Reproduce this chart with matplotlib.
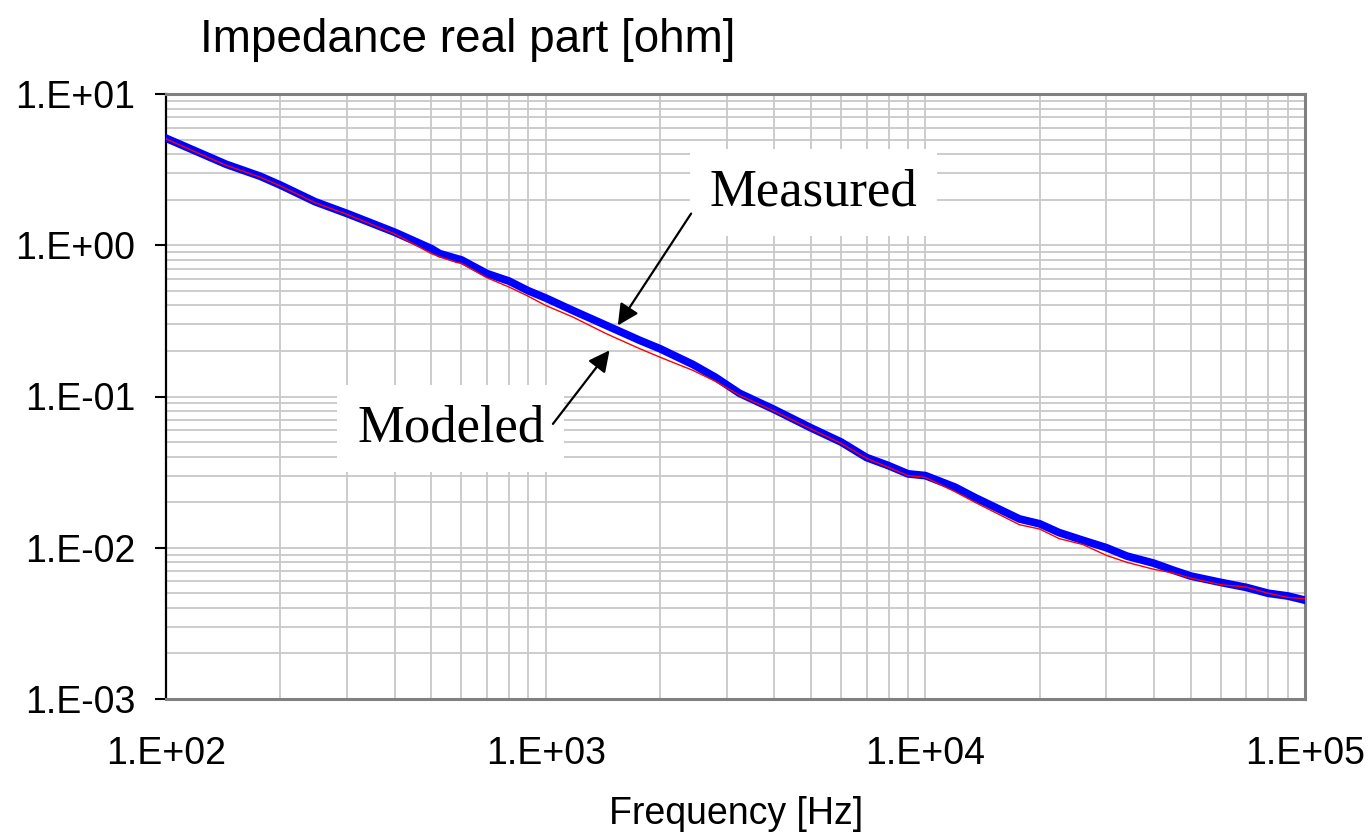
import matplotlib
matplotlib.use("Agg")
import matplotlib.pyplot as plt
from matplotlib.ticker import LogLocator, FixedLocator, NullFormatter

# values
freq = [100, 118, 144, 177, 200, 247, 300, 400, 500, 526, 582, 600, 700, 800,
        900, 1000, 1180, 1445, 1770, 2000, 2440, 2800, 3240, 4000, 5000, 6000,
        7000, 8000, 9000, 10000, 12000, 13500, 17700, 20000, 22500, 26000,
        30000, 34000, 40000, 45000, 50000, 60000, 70000, 80000, 90000, 100000]

measured = [5.1, 4.26, 3.43, 2.86, 2.50, 1.94, 1.62, 1.22, 0.95, 0.88, 0.817,
            0.80, 0.65, 0.58, 0.50, 0.448, 0.37, 0.295, 0.235, 0.207, 0.163,
            0.134, 0.105, 0.082, 0.062, 0.050, 0.0395, 0.0349, 0.0308, 0.030,
            0.0251, 0.0215, 0.0155, 0.0144, 0.0126, 0.0112, 0.0100, 0.0088,
            0.0079, 0.0071, 0.0065, 0.0059, 0.00547, 0.0050, 0.0048, 0.0045]

modeled = [5.05, 4.2, 3.38, 2.82, 2.47, 1.91, 1.60, 1.19, 0.88, 0.84, 0.77,
           0.76, 0.61, 0.53, 0.46, 0.40, 0.335, 0.26, 0.207, 0.182, 0.149,
           0.126, 0.102, 0.080, 0.061, 0.049, 0.039, 0.034, 0.030, 0.0292,
           0.0234, 0.020, 0.0142, 0.0133, 0.0115, 0.0105, 0.0089, 0.0080,
           0.0072, 0.0068, 0.0063, 0.0057, 0.0055, 0.0050, 0.0047, 0.0046]

xtick_vals = [1e2, 1e3, 1e4, 1e5]
xtick_labels = ["1.E+02", "1.E+03", "1.E+04", "1.E+05"]
ytick_vals = [1e-3, 1e-2, 1e-1, 1e0, 1e1]
ytick_labels = ["1.E-03", "1.E-02", "1.E-01", "1.E+00", "1.E+01"]

sans = "Liberation Sans"
serif = "Liberation Serif"

fig = plt.figure(figsize=(13.71, 8.33), dpi=100)
ax = fig.add_axes([166 / 1371, 1 - 699 / 833, (1305 - 166) / 1371, (699 - 94) / 833])

ax.set_xscale("log")
ax.set_yscale("log")
ax.set_xlim(1e2, 1e5)
ax.set_ylim(1e-3, 1e1)

# grid on every decade and sub-decade
ax.xaxis.set_minor_locator(LogLocator(base=10, subs=range(2, 10)))
ax.yaxis.set_minor_locator(LogLocator(base=10, subs=range(2, 10)))
ax.xaxis.set_minor_formatter(NullFormatter())
ax.yaxis.set_minor_formatter(NullFormatter())
ax.grid(True, which="both", color="#c8c8c8", lw=1.3, zorder=0)
ax.set_axisbelow(True)

ax.xaxis.set_major_locator(FixedLocator(xtick_vals))
ax.set_xticklabels(xtick_labels, fontfamily=sans, fontsize=27)
ax.yaxis.set_major_locator(FixedLocator(ytick_vals))
ax.set_yticklabels(ytick_labels, fontfamily=sans, fontsize=27)
ax.tick_params(axis="x", which="both", length=0, pad=27)
ax.tick_params(axis="y", which="major", length=8, width=1.5, color="black", pad=14)
ax.tick_params(axis="y", which="minor", length=0)

for side in ["top", "right", "bottom"]:
    ax.spines[side].set_color("#808080")
    ax.spines[side].set_linewidth(2.2)
ax.spines["left"].set_color("black")
ax.spines["left"].set_linewidth(1.6)

ax.plot(freq, measured, color="#0000ff", lw=5.6, solid_joinstyle="round", zorder=3)
ax.plot(freq, modeled, color="#ff0000", lw=1.0, zorder=4)

box = dict(facecolor="white", edgecolor="none", pad=14)
ax.text(5070, 2.24, "Measured", fontfamily=serif, fontsize=38,
        ha="center", va="center", bbox=box, zorder=5)
ax.text(562, 0.0614, "Modeled", fontfamily=serif, fontsize=38,
        ha="center", va="center", bbox=box, zorder=5)

arrow = dict(arrowstyle="-|>", color="black", lw=1.6, mutation_scale=32,
             shrinkA=0, shrinkB=0)
ax.annotate("", xy=(1549, 0.295), xytext=(2416, 1.62), arrowprops=arrow, zorder=6)
ax.annotate("", xy=(1473, 0.202), xytext=(1045, 0.0659), arrowprops=arrow, zorder=6)

fig.text(200 / 1371, 1 - 52 / 833, "Impedance real part [ohm]",
         fontfamily=sans, fontsize=33, ha="left", va="baseline")
fig.text(736 / 1371, 1 - 824 / 833, "Frequency [Hz]",
         fontfamily=sans, fontsize=27, ha="center", va="baseline")

fig.savefig("out.png", dpi=100)
